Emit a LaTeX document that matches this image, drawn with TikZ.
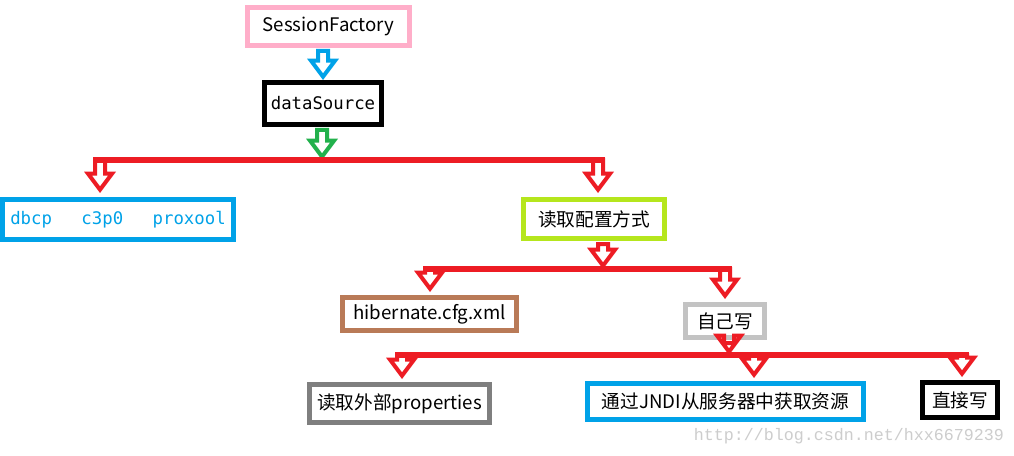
\documentclass[tikz,border=0pt]{standalone}
\usepackage{fontspec}
\setmainfont{Noto Sans CJK SC}
\setmonofont{DejaVu Sans Mono}
\newfontfamily\markfont{Liberation Mono}
\usetikzlibrary{calc}
\definecolor{lineRed}{HTML}{ED1C24}
\definecolor{fpink}{HTML}{FFAEC9}
\definecolor{fblue}{HTML}{00A2E8}
\definecolor{fgreen}{HTML}{22B14C}
\definecolor{flime}{HTML}{B5E61D}
\definecolor{fbrown}{HTML}{B97A57}
\definecolor{flight}{HTML}{C3C3C3}
\definecolor{fgray}{HTML}{7F7F7F}
\definecolor{markgray}{HTML}{CDCDCD}
\tikzset{
  x=0.75pt,y=-0.75pt,
  boxsize/.style 2 args={minimum width=#1*0.75pt,minimum height=#2*0.75pt},
}
\tikzstyle{box}=[draw,line width=3.75pt,inner sep=0pt,font=\fontsize{14}{16}\selectfont]
\tikzstyle{monobox}=[box,font=\ttfamily\fontsize{13}{15}\selectfont]
\tikzstyle{bus}=[line width=4pt,lineRed]
\tikzstyle{hollow}=[line width=3pt,fill=white,line join=miter]
\newcommand\hollowarrow[3]{%
  \draw[hollow,draw=#1] let \p1=(#2), \p2=(#3) in
    (\x1-3.75pt,\y1) -- (\x1-3.75pt,\y2+14.5pt) -- (\x1-9pt,\y2+14.5pt)
    -- (\x1,\y2+2.5pt) -- (\x1+9pt,\y2+14.5pt) -- (\x1+3.75pt,\y2+14.5pt)
    -- (\x1+3.75pt,\y1) -- cycle;}

\begin{document}
\begin{tikzpicture}
  \useasboundingbox[fill=white] (0,0) rectangle (1014,456);
  \node[box,draw=fpink,boxsize={162}{38}] (sf) at (328.5,26.5) {SessionFactory};
  \node[monobox,boxsize={117}{42}] (ds) at (323,103.5) {dataSource};
  \node[monobox,draw=fblue,text=fblue,boxsize={231}{40}] (pool) at (118,219.5)
    {dbcp\hspace{1.7em}c3p0\hspace{1.7em}proxool};
  \node[box,draw=flime,boxsize={141}{39}] (cfg) at (594,219) {读取配置方式};
  \node[box,draw=fbrown,boxsize={174}{33}] (hib) at (429.5,314) {hibernate.cfg.xml};
  \node[box,draw=flight,boxsize={79}{33}] (self) at (725,321) {自己写};
  \node[box,draw=fgray,boxsize={180}{38}] (ext) at (399.5,403.5) {读取外部properties};
  \node[box,draw=fblue,boxsize={276}{36}] (jndi) at (725.5,401.5) {通过JNDI从服务器中获取资源};
  \node[box,boxsize={75}{35}] (direct) at (960,400) {直接写};
  \node[font=\markfont\fontsize{12.5}{14}\selectfont,text=markgray] (mark) at (849,436)
    {http://blog.csdn.net/hxx6679239};

  \coordinate (b1l) at (100,160);
  \coordinate (b1m) at (322,160);
  \coordinate (b1r) at (598,160);
  \coordinate (b2l) at (430,269);
  \coordinate (b2m) at (603,269);
  \coordinate (b2r) at (725,269);
  \coordinate (b3l) at (402,355);
  \coordinate (b3m) at (729,355);
  \coordinate (b3c) at (754,355);
  \coordinate (b3r) at (962,355);

  \hollowarrow{fblue}{$(ds.north |- sf.south)+(0,3)$}{ds.north}
  \hollowarrow{fgreen}{$(b1m |- ds.south)+(0,3)$}{b1m}
  \hollowarrow{lineRed}{b1l}{$(b1l |- pool.north)+(0,-4)$}
  \hollowarrow{lineRed}{b1r}{$(b1r |- cfg.north)+(0,-4)$}
  \hollowarrow{lineRed}{$(b2m |- cfg.south)+(0,3)$}{b2m}
  \hollowarrow{lineRed}{b2l}{$(b2l |- hib.north)+(0,-3)$}
  \hollowarrow{lineRed}{b2r}{$(b2r |- self.north)+(0,-3)$}
  \hollowarrow{lineRed}{$(b3m |- self.south)+(0,3)$}{b3m}
  \hollowarrow{lineRed}{b3l}{$(b3l |- ext.north)+(0,-3)$}
  \hollowarrow{lineRed}{b3c}{$(b3c |- jndi.north)+(0,-3)$}
  \hollowarrow{lineRed}{b3r}{$(b3r |- direct.north)+(0,-3)$}

  \draw[bus] ($(b1l)+(-7,0)$) -- ($(b1r)+(7,0)$);
  \draw[bus] ($(b2l)+(-7,0)$) -- ($(b2r)+(7,0)$);
  \draw[bus] ($(b3l)+(-7,0)$) -- ($(b3r)+(7,0)$);
\end{tikzpicture}
\end{document}
